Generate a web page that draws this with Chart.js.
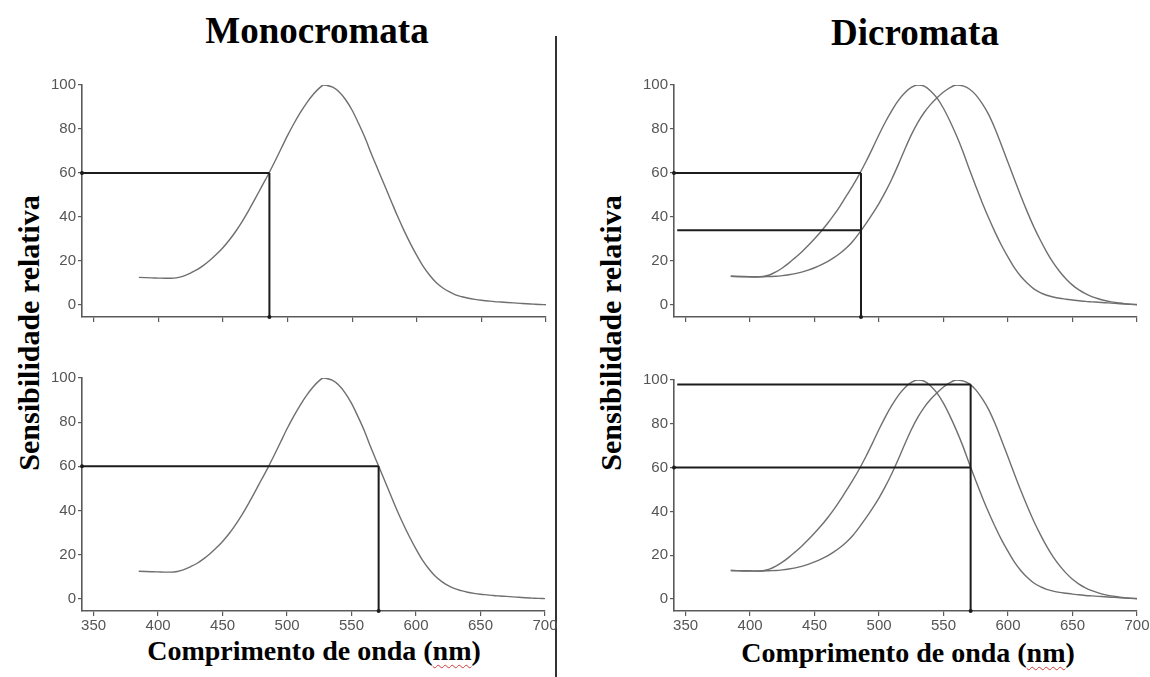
<!DOCTYPE html>
<html>
<head>
<meta charset="utf-8">
<script src="https://cdn.jsdelivr.net/npm/chart.js@4.4.1/dist/chart.umd.min.js"></script>
<style>
  html, body { margin: 0; padding: 0; background: #ffffff; }
  body { width: 1150px; height: 677px; position: relative; overflow: hidden; }
  canvas { position: absolute; }
  .title, .xlab, .ylab {
    position: absolute; font-family: 'Liberation Serif', 'Times New Roman', serif;
    font-weight: bold; color: #000; white-space: nowrap;
  }
  .title { font-size: 37px; transform: translate(-50%, -50%); }
  .xlab { font-size: 28px; transform: translate(-50%, -50%); }
  .ylab { font-size: 30px; transform: translate(-50%, -50%) rotate(-90deg); }
  .spell { text-decoration: underline wavy #d23a3a; text-decoration-thickness: 1px; text-underline-offset: 4px; }
  #divider { position: absolute; left: 555px; top: 36px; width: 1.5px; height: 641px; background: #333; }
</style>
</head>
<body>
<div class="title" style="left:317px; top:30px;">Monocromata</div>
<div class="title" style="left:915px; top:32px;">Dicromata</div>
<div id="divider"></div>
<div class="ylab" style="left:29px; top:333px;">Sensibilidade relativa</div>
<div class="ylab" style="left:611px; top:333px;">Sensibilidade relativa</div>
<div class="xlab" style="left:314px; top:651px;">Comprimento de onda (<span class="spell">nm</span>)</div>
<div class="xlab" style="left:908px; top:653px;">Comprimento de onda (<span class="spell">nm</span>)</div>

<canvas id="monoTop"></canvas>
<canvas id="monoBottom"></canvas>
<canvas id="diTop"></canvas>
<canvas id="diBottom"></canvas>

<script>
// Wavelength ticks (nm) and relative sensitivity ticks (%)
const xTicks = [350, 400, 450, 500, 550, 600, 650, 700];
const yTicks = [0, 20, 40, 60, 80, 100];

// Single cone pigment (peak ~528 nm)
const monoWavelengths = [385, 390, 395, 400, 405, 410, 415, 420, 425, 430, 435, 440, 445, 450, 455, 460, 465, 470, 475, 480, 485, 490, 495, 500, 505, 510, 515, 520, 525, 528, 530, 535, 540, 545, 550, 555, 560, 565, 570, 575, 580, 585, 590, 595, 600, 605, 610, 615, 620, 625, 630, 635, 640, 645, 650, 655, 660, 665, 670, 675, 680, 685, 690, 695, 700];
const monoSensitivity = [12.5, 12.4, 12.3, 12.2, 12.1, 12.1, 12.4, 13.2, 14.5, 16.0, 18.0, 20.3, 23.0, 26.0, 29.5, 33.5, 38.0, 43.0, 48.3, 53.8, 59.2, 65.0, 71.0, 77.0, 82.5, 87.5, 92.0, 95.8, 98.8, 100, 99.9, 99.0, 96.8, 93.3, 88.5, 82.5, 76.0, 68.5, 61.5, 54.5, 47.5, 40.5, 34.0, 28.0, 22.5, 17.5, 13.5, 10.2, 7.8, 6.0, 4.6, 3.7, 3.0, 2.5, 2.1, 1.8, 1.5, 1.3, 1.1, 0.9, 0.7, 0.5, 0.35, 0.2, 0.1];

// Two cone pigments: shorter-wavelength (peak ~530 nm) and longer-wavelength (peak ~560 nm)
const dichroWavelengths = [385, 390, 395, 400, 405, 410, 415, 420, 425, 430, 435, 440, 445, 450, 455, 460, 465, 470, 475, 480, 485, 490, 495, 500, 505, 510, 515, 520, 525, 530, 535, 540, 545, 550, 555, 560, 565, 570, 575, 580, 585, 590, 595, 600, 605, 610, 615, 620, 625, 630, 635, 640, 645, 650, 655, 660, 665, 670, 675, 680, 685, 690, 695, 700];
const shortConeSensitivity = [13.0, 12.9, 12.8, 12.7, 12.7, 12.9, 13.6, 15.0, 16.8, 19.0, 21.5, 24.1, 27.0, 30.1, 33.4, 37.0, 40.9, 45.2, 49.9, 54.6, 59.7, 65.3, 71.3, 77.5, 83.3, 88.5, 93.0, 96.5, 98.9, 100, 99.5, 97.3, 94.0, 89.3, 83.5, 77.0, 69.8, 61.7, 54.0, 46.5, 39.5, 33.0, 27.0, 21.7, 16.8, 12.9, 9.8, 7.3, 5.6, 4.4, 3.6, 3.0, 2.6, 2.2, 1.9, 1.6, 1.4, 1.2, 1.0, 0.8, 0.6, 0.4, 0.25, 0.1];
const longConeSensitivity = [13.0, 12.95, 12.9, 12.85, 12.8, 12.8, 12.9, 13.0, 13.3, 13.7, 14.2, 14.9, 15.8, 16.9, 18.2, 19.7, 21.5, 23.6, 26.1, 29.2, 33.0, 37.1, 41.5, 46.2, 51.5, 57.4, 63.9, 70.8, 77.3, 82.9, 87.5, 91.2, 94.2, 96.8, 98.8, 100, 99.6, 98.2, 95.5, 91.5, 86.5, 80.0, 72.5, 64.8, 57.0, 49.4, 42.2, 35.5, 29.5, 24.0, 19.2, 15.2, 11.8, 9.0, 6.8, 5.1, 3.8, 2.8, 2.0, 1.4, 1.0, 0.6, 0.35, 0.2];

const monoTopGuide = { wavelength: 486, levels: [60] };
const monoBottomGuide = { wavelength: 571, levels: [60] };
const diTopGuide = { wavelength: 486, levels: [60, 34] };
const diBottomGuide = { wavelength: 571, levels: [98, 60] };

const X_MIN = 341, X_MAX = 700, Y_MIN = -5.5, Y_MAX = 100;

function toPoints(xs, ys) { return xs.map((x, i) => ({ x: x, y: ys[i] })); }

const CURVE_COLOR = '#6f6f6f';
const AXIS_COLOR = '#5a5a5a';
const GUIDE_COLOR = '#1c1c1c';

function curveDataset(points) {
  return {
    data: points, borderColor: CURVE_COLOR, borderWidth: 1.4,
    pointRadius: 0, cubicInterpolationMode: 'monotone', fill: false, order: 2
  };
}

function guideDatasets(guide) {
  const sets = [];
  const top = Math.max(...guide.levels);
  // vertical drop from the highest level to the wavelength axis
  sets.push({
    data: [{ x: guide.wavelength, y: top }, { x: guide.wavelength, y: Y_MIN }],
    borderColor: GUIDE_COLOR, borderWidth: 2, pointRadius: [0, 2],
    pointBackgroundColor: GUIDE_COLOR, pointBorderWidth: 0, tension: 0, clip: false, order: 1
  });
  guide.levels.forEach((lvl) => {
    const fromAxis = lvl === 60;
    sets.push({
      data: [{ x: fromAxis ? X_MIN : X_MIN + 2.5, y: lvl }, { x: guide.wavelength, y: lvl }],
      borderColor: GUIDE_COLOR, borderWidth: 2, pointRadius: [fromAxis ? 2 : 0, 0],
      pointBackgroundColor: GUIDE_COLOR, pointBorderWidth: 0, tension: 0, clip: false, order: 1
    });
  });
  return sets;
}

const PAD_TOP = 14, PAD_RIGHT = 24, Y_AXIS_W = 60, X_AXIS_H = 40;

function makePanel(id, box, datasets, showXLabels) {
  const canvas = document.getElementById(id);
  const w = box.right - box.left + Y_AXIS_W + PAD_RIGHT;
  const h = box.bottom - box.top + PAD_TOP + X_AXIS_H;
  canvas.style.left = (box.left - Y_AXIS_W) + 'px';
  canvas.style.top = (box.top - PAD_TOP) + 'px';
  canvas.style.width = w + 'px';
  canvas.style.height = h + 'px';
  canvas.width = w; canvas.height = h;

  const tickFont = { family: "'Liberation Sans Narrow', 'Liberation Sans', Arial, sans-serif", size: 15 };

  return new Chart(canvas, {
    type: 'line',
    data: { datasets: datasets },
    options: {
      responsive: false, animation: false, devicePixelRatio: 1,
      layout: { padding: { top: PAD_TOP, right: PAD_RIGHT, left: 0, bottom: 0 } },
      plugins: { legend: { display: false }, tooltip: { enabled: false } },
      elements: { line: { borderCapStyle: 'butt' } },
      scales: {
        x: {
          type: 'linear', min: X_MIN, max: X_MAX,
          afterBuildTicks: s => { s.ticks = xTicks.map(v => ({ value: v })); },
          afterFit: s => { s.height = X_AXIS_H; },
          border: { display: true, color: AXIS_COLOR, width: 1.6 },
          grid: { drawOnChartArea: false, drawTicks: true, tickLength: 5, color: AXIS_COLOR, lineWidth: 1.2 },
          ticks: {
            color: showXLabels ? '#555555' : 'rgba(0,0,0,0)', font: tickFont, padding: 1,
            maxRotation: 0, autoSkip: false, callback: v => String(v)
          }
        },
        y: {
          type: 'linear', min: Y_MIN, max: Y_MAX,
          afterBuildTicks: s => { s.ticks = yTicks.map(v => ({ value: v })); },
          afterFit: s => { s.width = Y_AXIS_W; },
          border: { display: true, color: AXIS_COLOR, width: 1.6 },
          grid: { drawOnChartArea: false, drawTicks: true, tickLength: 4, color: AXIS_COLOR, lineWidth: 1.2 },
          ticks: { color: '#555555', font: tickFont, padding: 2, autoSkip: false, callback: v => String(v) }
        }
      }
    }
  });
}

const monoPoints = toPoints(monoWavelengths, monoSensitivity);
const shortPoints = toPoints(dichroWavelengths, shortConeSensitivity);
const longPoints = toPoints(dichroWavelengths, longConeSensitivity);

makePanel('monoTop', { left: 82, top: 85, right: 546, bottom: 317 },
  [curveDataset(monoPoints)].concat(guideDatasets(monoTopGuide)), false);
makePanel('monoBottom', { left: 82, top: 378, right: 545, bottom: 611 },
  [curveDataset(monoPoints)].concat(guideDatasets(monoBottomGuide)), true);
makePanel('diTop', { left: 674, top: 85, right: 1137, bottom: 317 },
  [curveDataset(shortPoints), curveDataset(longPoints)].concat(guideDatasets(diTopGuide)), false);
makePanel('diBottom', { left: 674, top: 380, right: 1137, bottom: 611 },
  [curveDataset(shortPoints), curveDataset(longPoints)].concat(guideDatasets(diBottomGuide)), true);
</script>
</body>
</html>
